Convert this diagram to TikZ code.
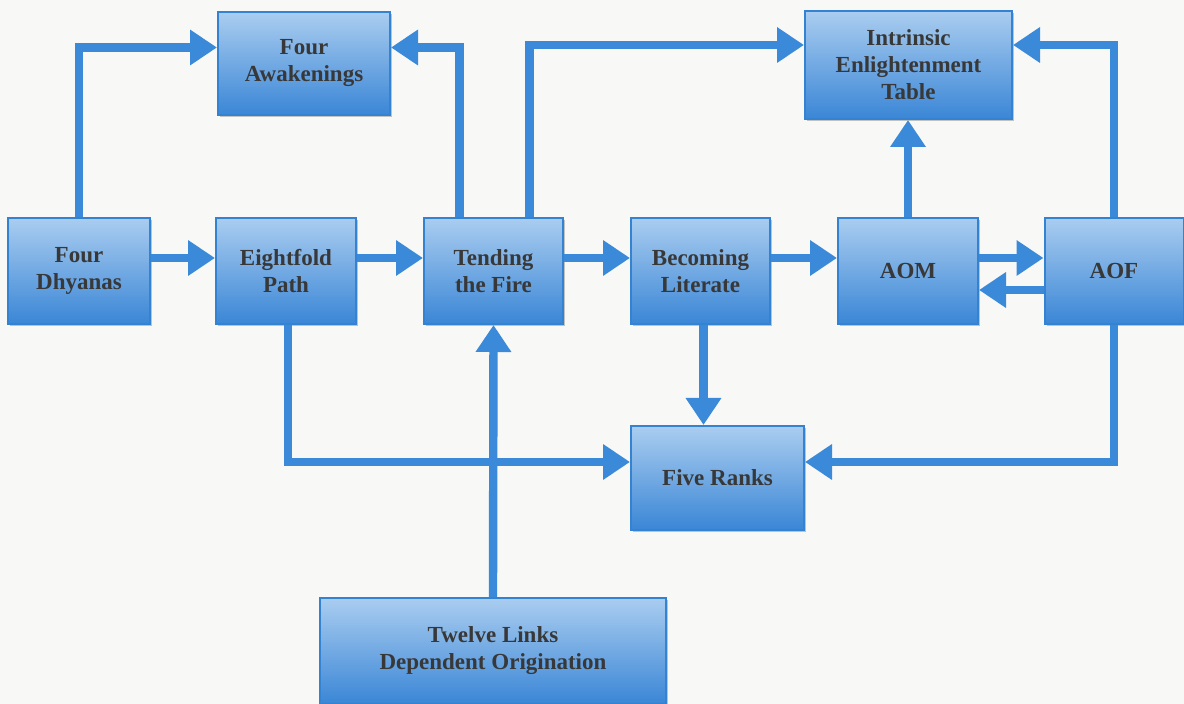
\documentclass[tikz,border=0pt]{standalone}
\usepackage{fontspec}
\setmainfont{Liberation Serif}
\usetikzlibrary{arrows.meta,shadows,calc}
\definecolor{bg}{HTML}{F8F8F6}
\definecolor{boxtop}{HTML}{AACDF0}
\definecolor{boxbot}{HTML}{3A86D6}
\definecolor{boxline}{HTML}{3482D2}
\definecolor{arrowc}{HTML}{3B8AD9}
\definecolor{txt}{HTML}{383838}
\tikzset{
  box/.style={draw=boxline, line width=1pt, top color=boxtop, bottom color=boxbot,
    drop shadow={shadow xshift=1.2pt, shadow yshift=-1.2pt, fill=black, opacity=0.22},
    text=txt, font=\fontsize{11.5}{13.5}\selectfont\bfseries, align=center,
    inner sep=0pt},
  arr/.style={draw=arrowc, line width=4.2pt, -{Triangle[width=17pt,length=13.5pt]}}
}
\begin{document}
\begin{tikzpicture}[x=0.5pt,y=-0.5pt]
\fill[bg] (0,0) rectangle (1184,704);
\useasboundingbox (0,0) rectangle (1184,704);
% nodes
\node[box, minimum width=86pt, minimum height=51.5pt] (FA) at (304,63.5) {Four\\Awakenings};
\node[box, minimum width=103.5pt, minimum height=54pt] (IET) at (908.5,65) {Intrinsic\\Enlightenment\\Table};
\node[box, minimum width=71pt, minimum height=53pt] (FD) at (79,271) {Four\\Dhyanas};
\node[box, minimum width=70pt, minimum height=53pt] (EP) at (286,271) {Eightfold\\Path};
\node[box, minimum width=69.5pt, minimum height=53pt] (TF) at (493.5,271) {Tending\\the Fire};
\node[box, minimum width=69.5pt, minimum height=53pt] (BL) at (700.5,271) {Becoming\\Literate};
\node[box, minimum width=70pt, minimum height=53pt] (AOM) at (908,271) {AOM};
\node[box, minimum width=69.5pt, minimum height=53pt] (AOF) at (1114,271) {AOF};
\node[box, minimum width=86.5pt, minimum height=52pt] (FR) at (717.5,478) {Five Ranks};
\node[box, minimum width=173pt, minimum height=53pt] (TL) at (493,651) {Twelve Links\\Dependent Origination};
% connectors
\draw[arr] (FD.north) |- ([yshift=8pt]FA.west);
\draw[arr] ([xshift=-17pt]TF.north) |- ([yshift=8pt]FA.east);
\draw[arr] ([xshift=18pt]TF.north) |- ([yshift=10pt]IET.west);
\draw[arr] (AOF.north) |- ([yshift=10pt]IET.east);
\draw[arr] (AOM.north) -- (AOM.north|-IET.south);
\draw[arr] ([yshift=6.5pt]FD.east) -- ([yshift=6.5pt]EP.west);
\draw[arr] ([yshift=6.5pt]EP.east) -- ([yshift=6.5pt]TF.west);
\draw[arr] ([yshift=6.5pt]TF.east) -- ([yshift=6.5pt]BL.west);
\draw[arr] ([yshift=6.5pt]BL.east) -- ([yshift=6.5pt]AOM.west);
\draw[arr] ([yshift=6.5pt]AOM.east) -- ([yshift=6.5pt]AOF.west);
\draw[arr] ([yshift=-9.5pt]AOF.west) -- ([yshift=-9.5pt]AOM.east);
\draw[arr] ([xshift=1.5pt]BL.south) -- ([xshift=1.5pt]BL.south|-FR.north);
\draw[arr] ([xshift=1pt]EP.south) |- ([yshift=8pt]FR.west);
\draw[arr] (AOF.south) |- ([yshift=8pt]FR.east);
\draw[arr] (TL.north) -- (TF.south);
\end{tikzpicture}
\end{document}
